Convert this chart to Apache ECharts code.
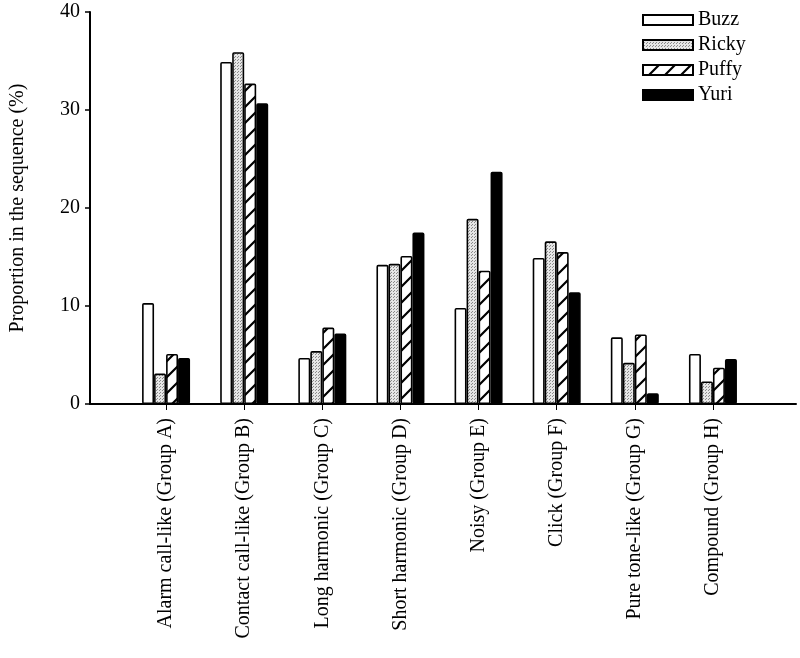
<!DOCTYPE html>
<html>
<head>
<meta charset="utf-8">
<script src="https://cdn.jsdelivr.net/npm/echarts@6/dist/echarts.min.js"></script>
<style>
  html, body { margin: 0; padding: 0; background: #ffffff; }
  #chart { width: 800px; height: 658px; }
</style>
</head>
<body>
<div id="chart"></div>
<script>
// categories and series
var categories = [
  "Alarm call-like (Group A)",
  "Contact call-like (Group B)",
  "Long harmonic (Group C)",
  "Short harmonic (Group D)",
  "Noisy (Group E)",
  "Click (Group F)",
  "Pure tone-like (Group G)",
  "Compound (Group H)"
];
var seriesNames = ["Buzz", "Ricky", "Puffy", "Yuri"];
var buzz  = [10.3, 34.9, 4.7, 14.2, 9.8, 14.9, 6.8, 5.1];
var ricky = [3.1, 35.9, 5.4, 14.3, 18.9, 16.6, 4.2, 2.3];
var puffy = [5.1, 32.7, 7.8, 15.1, 13.6, 15.5, 7.1, 3.7];
var yuri  = [4.7, 30.7, 7.2, 17.5, 23.7, 11.4, 1.1, 4.6];
var yTicks = [0, 10, 20, 30, 40];

var serif = "'Liberation Serif', 'DejaVu Serif', serif";

// fill patterns
function dotPattern() {
  var c = document.createElement("canvas");
  c.width = 3; c.height = 3;
  var g = c.getContext("2d");
  g.fillStyle = "#e6e6e6";
  g.fillRect(0, 0, 3, 3);
  g.fillStyle = "#8a8a8a";
  g.fillRect(0, 0, 1, 1);
  g.fillRect(1, 2, 1, 1);
  return { image: c, repeat: "repeat" };
}
function hatchPattern() {
  var c = document.createElement("canvas");
  c.width = 16; c.height = 16;
  var g = c.getContext("2d");
  g.fillStyle = "#ffffff";
  g.fillRect(0, 0, 16, 16);
  g.strokeStyle = "#000000";
  g.lineWidth = 2.2;
  g.beginPath();
  g.moveTo(-2, 18); g.lineTo(18, -2);
  g.moveTo(-2, 2); g.lineTo(2, -2);
  g.moveTo(14, 18); g.lineTo(18, 14);
  g.stroke();
  return { image: c, repeat: "repeat" };
}

var fills = ["#ffffff", dotPattern(), hatchPattern(), "#000000"];
var values = [buzz, ricky, puffy, yuri];

var chart = echarts.init(document.getElementById("chart"));

var series = seriesNames.map(function (name, i) {
  return {
    name: name,
    type: "bar",
    xAxisIndex: 1,
    yAxisIndex: 1,
    barWidth: 12,
    barGap: "0%",
    itemStyle: {
      color: fills[i],
      borderColor: "#000000",
      borderWidth: 1.6,
      borderRadius: 1
    },
    data: values[i]
  };
});

var option = {
  backgroundColor: "#ffffff",
  animation: false,
  legend: {
    data: seriesNames.map(function (n) { return { name: n, icon: "rect" }; }),
    orient: "vertical",
    left: 637,
    top: 5,
    itemWidth: 50,
    itemHeight: 10,
    itemGap: 5,
    textStyle: { fontFamily: serif, fontSize: 20, color: "#000" }
  },
  grid: [
    { left: 86, right: 4, top: 12, bottom: 254 },
    { left: 127, right: 48, top: 12, bottom: 254 }
  ],
  xAxis: [
    {
      type: "value",
      gridIndex: 0,
      min: 0,
      max: 1,
      axisLine: { show: true, lineStyle: { color: "#000", width: 2 } },
      axisTick: { show: false },
      axisLabel: { show: false },
      splitLine: { show: false }
    },
    {
      type: "category",
      gridIndex: 1,
      data: categories,
      axisLine: { show: false },
      axisTick: {
        show: true,
        alignWithLabel: true,
        length: 6,
        lineStyle: { color: "#000", width: 1 }
      },
      axisLabel: {
        rotate: 90,
        margin: 14,
        fontFamily: serif,
        fontSize: 20,
        color: "#000"
      }
    }
  ],
  yAxis: [
    {
      type: "value",
      gridIndex: 0,
      min: 0,
      max: 40,
      interval: 10,
      name: "Proportion in the sequence (%)",
      nameLocation: "middle",
      nameGap: 62,
      nameTextStyle: { fontFamily: serif, fontSize: 20, color: "#000" },
      axisLine: { show: true, lineStyle: { color: "#000", width: 2 } },
      axisTick: { show: true, length: 5, lineStyle: { color: "#000", width: 1.5 } },
      axisLabel: {
        fontFamily: serif,
        fontSize: 20,
        color: "#000",
        margin: 10,
        formatter: function (v) { return yTicks.indexOf(v) >= 0 ? String(v) : ""; }
      },
      splitLine: { show: false }
    },
    {
      type: "value",
      gridIndex: 1,
      min: 0,
      max: 40,
      interval: 10,
      show: false,
      splitLine: { show: false }
    }
  ],
  series: series
};

chart.setOption(option);
</script>
</body>
</html>
